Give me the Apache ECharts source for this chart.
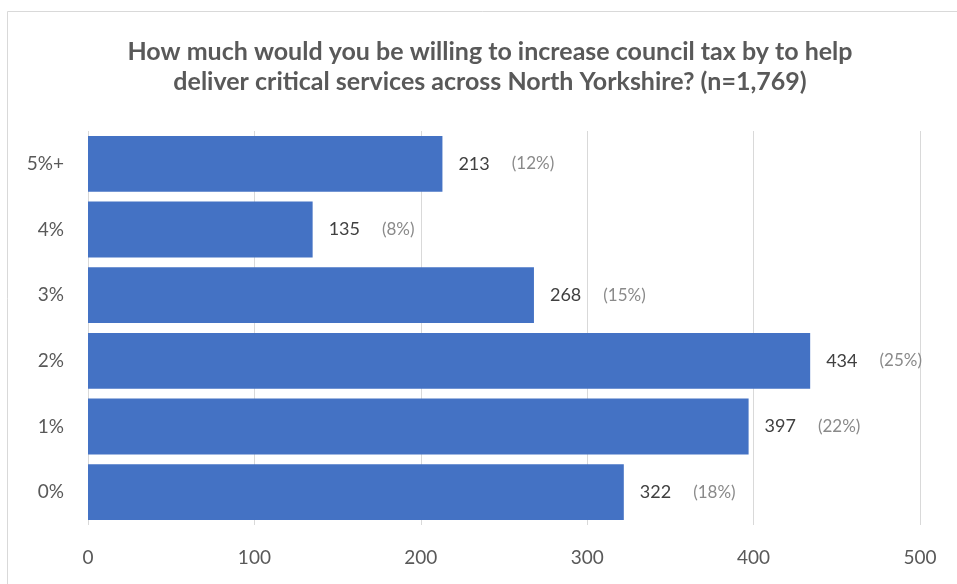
<!DOCTYPE html>
<html>
<head>
<meta charset="utf-8">
<style>
  html, body { margin: 0; padding: 0; background: #ffffff; }
  #chart { width: 957px; height: 584px; }
</style>
<script src="https://cdn.jsdelivr.net/npm/echarts@6/dist/echarts.min.js"></script>
</head>
<body>
<div id="chart"></div>
<script>
// Survey responses: willingness to increase council tax
const categories = ['0%', '1%', '2%', '3%', '4%', '5%+'];
const responses = [322, 397, 434, 268, 135, 213];
const totalRespondents = 1769;
const xTicks = [0, 100, 200, 300, 400, 500];

const FONT = 'Lato, "Liberation Sans", sans-serif';

const chart = echarts.init(document.getElementById('chart'), null, { renderer: 'canvas' });

chart.setOption({
  backgroundColor: '#ffffff',
  animation: false,
  title: {
    text: 'How much would you be willing to increase council tax by to help\ndeliver critical services across North Yorkshire? (n=1,769)',
    left: 485,
    top: 32,
    textAlign: 'center',
    textStyle: {
      fontFamily: FONT,
      fontWeight: 'bold',
      fontSize: 25,
      lineHeight: 30,
      color: '#595959'
    }
  },
  graphic: [{
    type: 'rect',
    silent: true,
    shape: { x: 7.5, y: 11.5, width: 1200, height: 1200 },
    style: { fill: 'none', stroke: '#d9d9d9', lineWidth: 1 }
  }],
  grid: { left: 88, right: 37, top: 131, bottom: 59, containLabel: false },
  xAxis: {
    type: 'value',
    min: xTicks[0],
    max: xTicks[xTicks.length - 1],
    interval: xTicks[1] - xTicks[0],
    axisLine: { show: false },
    axisTick: { show: false },
    axisLabel: {
      margin: 23,
      fontFamily: FONT,
      fontSize: 19,
      color: '#595959'
    },
    splitLine: { show: true, lineStyle: { color: '#d9d9d9', width: 1 } }
  },
  yAxis: {
    type: 'category',
    data: categories,
    axisLine: { show: false },
    axisTick: { show: false },
    axisLabel: {
      margin: 24,
      fontFamily: FONT,
      fontSize: 19,
      color: '#595959'
    }
  },
  series: [{
    type: 'bar',
    data: responses,
    barCategoryGap: '15%',
    itemStyle: { color: '#4472c4' },
    label: {
      show: true,
      position: 'right',
      distance: 16,
      formatter: (p) => {
        const pct = Math.round(p.value / totalRespondents * 100);
        return '{v|' + p.value + '}{p|(' + pct + '%)}';
      },
      rich: {
        v: { fontFamily: FONT, fontSize: 18, color: '#404040' },
        p: { fontFamily: FONT, fontSize: 17, color: '#8a8a8a', padding: [0, 0, 0, 22] }
      }
    }
  }]
});
</script>
</body>
</html>
